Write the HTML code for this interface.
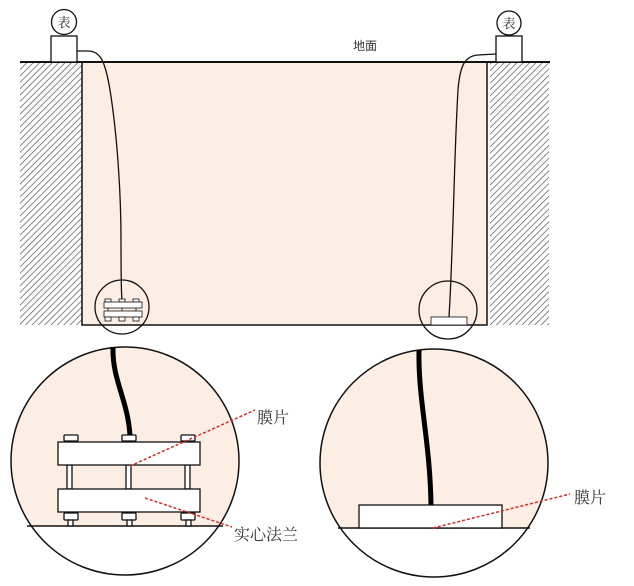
<!DOCTYPE html>
<html><head><meta charset="utf-8"><style>
html,body{margin:0;padding:0;background:#fff;width:634px;height:586px;overflow:hidden}
text{font-family:"Liberation Serif","Noto Serif CJK SC",serif;fill:#333}
</style></head><body>
<svg width="634" height="586" viewBox="0 0 634 586" xmlns="http://www.w3.org/2000/svg">
<defs>
<pattern id="h" width="4.5" height="4.5" patternUnits="userSpaceOnUse" patternTransform="rotate(45)">
<rect width="5" height="5" fill="#fff"/><line x1="0" y1="0" x2="0" y2="5" stroke="#555" stroke-width="1.4"/>
</pattern>
<clipPath id="c1"><circle cx="125" cy="461" r="114"/></clipPath>
<clipPath id="c2"><circle cx="434" cy="463" r="114"/></clipPath>
</defs>
<rect x="20" y="62" width="62" height="263" fill="url(#h)"/>
<rect x="490" y="62" width="59" height="263" fill="url(#h)"/>
<rect x="82" y="62" width="405" height="263" fill="#fdeee3" stroke="#111" stroke-width="1.5"/>
<line x1="20" y1="62" x2="550" y2="62" stroke="#111" stroke-width="2"/>
<text x="353" y="50" font-size="12" style="font-family:'Liberation Sans','Noto Sans CJK SC',sans-serif">地面</text>
<rect x="51" y="36" width="26" height="26" fill="#fff" stroke="#111" stroke-width="1.3"/>
<circle cx="64" cy="22" r="12.5" fill="#fff" stroke="#111" stroke-width="1.3"/>
<text x="64" y="27" font-size="13" text-anchor="middle" fill="#666">表</text>
<rect x="496" y="36" width="26" height="26" fill="#fff" stroke="#111" stroke-width="1.3"/>
<circle cx="509" cy="23" r="12" fill="#fff" stroke="#111" stroke-width="1.3"/>
<text x="509" y="28" font-size="13" text-anchor="middle" fill="#666">表</text>
<path d="M77,51 L88,51 C100,51 105,60 110,90 C118,140 121,200 121,240 C121,270 121,290 122,301" fill="none" stroke="#111" stroke-width="1.3"/>
<path d="M496,54 L478,55 C465,56 460,65 458,90 C455,140 454,200 452,250 C451,280 450,300 449,317" fill="none" stroke="#111" stroke-width="1.3"/>
<circle cx="122" cy="307" r="27" fill="none" stroke="#111" stroke-width="1.3"/>
<g stroke="#111" stroke-width="0.8" fill="#fff">
<rect x="105" y="299" width="6" height="3"/><rect x="119" y="299" width="6" height="3"/><rect x="133" y="299" width="6" height="3"/>
<line x1="108" y1="307" x2="108" y2="311"/><line x1="122" y1="307" x2="122" y2="311"/><line x1="136" y1="307" x2="136" y2="311"/>
<rect x="104" y="302" width="38" height="6"/><rect x="104" y="311" width="38" height="6"/>
<rect x="105" y="317" width="6" height="4"/><rect x="119" y="317" width="6" height="4"/><rect x="133" y="317" width="6" height="4"/>
</g>
<circle cx="448" cy="310" r="29" fill="none" stroke="#111" stroke-width="1.3"/>
<rect x="431" y="317" width="36" height="8" fill="#fff" stroke="#111" stroke-width="0.8"/>
<g clip-path="url(#c1)">
<rect x="0" y="340" width="260" height="186" fill="#fdeee3"/>
</g>
<circle cx="125" cy="461" r="114" fill="none" stroke="#111" stroke-width="1.5"/>
<line x1="27" y1="526" x2="223" y2="526" stroke="#111" stroke-width="1.5"/>
<path d="M113,347 C112,380 128,400 130,436" fill="none" stroke="#000" stroke-width="5"/>
<g stroke="#111" stroke-width="1.3" fill="#fff">
<rect x="67" y="465" width="5" height="24"/><rect x="126" y="465" width="5" height="24"/><rect x="185" y="465" width="5" height="24"/>
<rect x="64" y="435" width="14" height="6" rx="1"/><rect x="122" y="435" width="14" height="6" rx="1"/><rect x="181" y="435" width="14" height="6" rx="1"/>
<rect x="58" y="442" width="142" height="23"/><rect x="58" y="489" width="142" height="23"/>
<rect x="64" y="513" width="14" height="7" rx="1"/><rect x="122" y="513" width="14" height="7" rx="1"/><rect x="181" y="513" width="14" height="7" rx="1"/>
<rect x="68" y="520" width="5" height="6"/><rect x="127" y="520" width="5" height="6"/><rect x="186" y="520" width="5" height="6"/>
</g>
<line x1="130" y1="466" x2="255" y2="410" stroke="#d42a2a" stroke-width="1.5" stroke-dasharray="3,2"/>
<line x1="145" y1="498" x2="232" y2="527" stroke="#d42a2a" stroke-width="1.5" stroke-dasharray="3,2"/>
<text x="257" y="423" font-size="16">膜片</text>
<text x="234" y="540" font-size="16">实心法兰</text>
<g clip-path="url(#c2)">
<rect x="310" y="340" width="260" height="188" fill="#fdeee3"/>
</g>
<circle cx="434" cy="463" r="114" fill="none" stroke="#111" stroke-width="1.5"/>
<line x1="338" y1="528" x2="530" y2="528" stroke="#111" stroke-width="1.5"/>
<path d="M419,350 C418,400 430,440 431,505" fill="none" stroke="#000" stroke-width="5"/>
<rect x="359" y="505" width="143" height="23" fill="#fff" stroke="#111" stroke-width="1.3"/>
<line x1="433" y1="528" x2="570" y2="494" stroke="#d42a2a" stroke-width="1.5" stroke-dasharray="3,2"/>
<text x="574" y="503" font-size="16">膜片</text>
</svg>
</body></html>
